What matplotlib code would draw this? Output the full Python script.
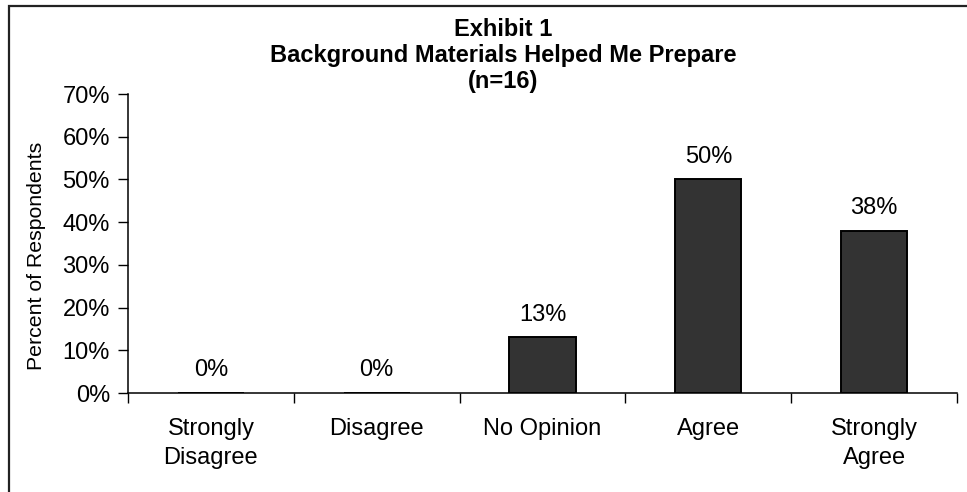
import matplotlib
matplotlib.use("Agg")
import matplotlib.pyplot as plt
from matplotlib.patches import Rectangle
from matplotlib.ticker import FixedLocator, PercentFormatter

categories = ["Strongly\nDisagree", "Disagree", "No Opinion", "Agree", "Strongly\nAgree"]
percents = [0, 0, 13, 50, 38]
labels = ["0%", "0%", "13%", "50%", "38%"]
title_lines = ["Exhibit 1", "Background Materials Helped Me Prepare", "(n=16)"]
y_label = "Percent of Respondents"

plt.rcParams["font.family"] = ["Liberation Sans", "DejaVu Sans"]
FS = 17

W, H = 967, 492
fig = plt.figure(figsize=(W / 100, H / 100), dpi=100)
fig.patch.set_facecolor("white")

# chart-area frame (only top and left edges fall inside the canvas)
frame = Rectangle((8.5 / W, -0.2), 1.2, (H - 5.5) / H + 0.2, transform=fig.transFigure,
                  fill=False, edgecolor="#222222", linewidth=1.6, zorder=0)
fig.add_artist(frame)

ax = fig.add_axes([128 / W, (H - 393) / H, (957 - 128) / W, (393 - 94) / H])

x = list(range(len(categories)))
ax.bar(x, percents, width=0.4, color="#333333", edgecolor="black", linewidth=1.4, zorder=3)

for xi, v, lab in zip(x, percents, labels):
    ax.annotate(lab, (xi, v), xytext=(0, 12), textcoords="offset points",
                ha="center", va="baseline", fontsize=FS)

ax.set_xlim(-0.5, len(categories) - 0.5)
ax.set_ylim(0, 70)
ax.yaxis.set_major_locator(FixedLocator(range(0, 71, 10)))
ax.yaxis.set_major_formatter(PercentFormatter(decimals=0))

ax.xaxis.set_major_locator(FixedLocator([i - 0.5 for i in range(len(categories) + 1)]))
ax.xaxis.set_major_formatter(plt.NullFormatter())
ax.xaxis.set_minor_locator(FixedLocator(x))
ax.set_xticklabels(categories, minor=True, fontsize=FS, linespacing=1.4)
ax.tick_params(axis="x", which="major", direction="out", length=7, width=1, color="black")
ax.tick_params(axis="x", which="minor", length=0, pad=18)
ax.tick_params(axis="y", direction="out", length=7, width=1, color="black", labelsize=FS, pad=6)

for side in ("top", "right"):
    ax.spines[side].set_visible(False)
for side in ("left", "bottom"):
    ax.spines[side].set_linewidth(1.1)
    ax.spines[side].set_color("black")

ax.set_ylabel(y_label, fontsize=15.3, va="center")
ax.yaxis.set_label_coords((37 - 128) / (957 - 128), (393 - 256) / (393 - 94))

fig.text(503 / W, 1 - 18 / H, "\n".join(title_lines), ha="center", va="top",
         fontsize=FS, fontweight="bold", linespacing=1.18)

fig.savefig("out.png", dpi=100)
